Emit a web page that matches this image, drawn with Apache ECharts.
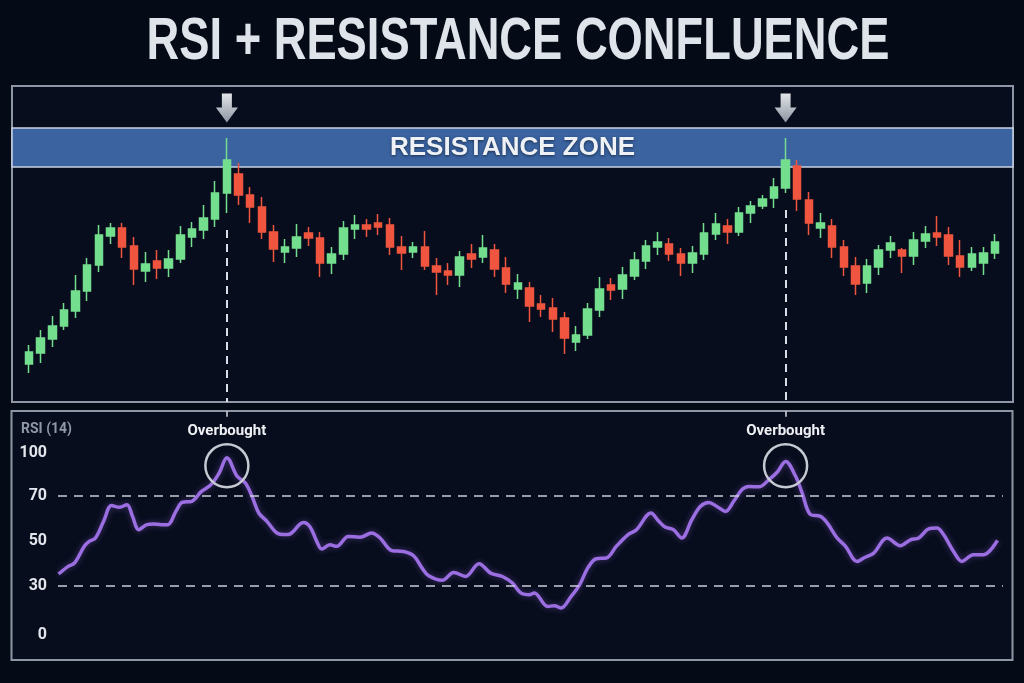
<!DOCTYPE html>
<html>
<head>
<meta charset="utf-8">
<title>RSI + Resistance Confluence</title>
<script src="https://cdn.jsdelivr.net/npm/echarts@6/dist/echarts.min.js"></script>
<style>
  html, body { margin: 0; padding: 0; background: #050a17; }
  #main { width: 1024px; height: 683px; }
</style>
</head>
<body>
<div id="main"></div>
<script>
// price candles, one per session (price units are arbitrary)
var opens  = [38, 49, 63, 76, 91, 111, 137, 166, 174, 156, 131, 141, 134, 143, 165, 172, 183, 209, 228, 207,
              195, 170, 150, 154, 169, 164, 139, 148, 173, 177, 179, 177, 155, 150, 155, 136, 131, 127, 148, 145,
              152, 134, 113, 114, 98, 94, 84, 60, 67, 92, 117, 113, 126, 141, 155, 158, 148, 139, 148, 168,
              176, 170, 189, 196, 204, 214, 236, 202, 174, 176, 155, 136, 119, 135, 152, 152, 146, 161, 169, 167,
              146, 135, 139, 149];
var closes = [50, 64, 76, 92, 111, 137, 167, 174, 155, 133, 138, 134, 143, 167, 173, 184, 209, 242, 207, 195,
              170, 153, 155, 165, 164, 139, 148, 174, 177, 173, 175, 155, 149, 155, 136, 130, 127, 145, 143, 154,
              133, 118, 119, 96, 93, 83, 64, 67, 93, 113, 112, 127, 142, 156, 160, 148, 139, 149, 169, 178,
              170, 189, 196, 203, 215, 242, 203, 179, 179, 155, 135, 118, 136, 152, 159, 146, 162, 168, 165, 146,
              135, 148, 149, 160];
var lows   = [29, 39, 55, 72, 84, 101, 130, 158, 144, 117, 120, 123, 125, 139, 155, 163, 175, 189, 197, 179,
              163, 140, 139, 145, 156, 125, 128, 142, 163, 165, 167, 147, 132, 144, 132, 107, 117, 115, 134, 139,
              125, 109, 103, 80, 85, 70, 48, 51, 63, 85, 102, 103, 122, 133, 147, 141, 126, 129, 142, 162,
              158, 166, 179, 193, 194, 209, 191, 167, 164, 144, 126, 107, 109, 127, 144, 129, 137, 154, 156, 137,
              125, 131, 127, 143];
var highs  = [57, 72, 86, 99, 127, 144, 177, 179, 179, 165, 150, 152, 152, 176, 180, 197, 221, 264, 239, 215,
              205, 177, 163, 178, 175, 170, 155, 181, 187, 183, 188, 184, 166, 160, 171, 144, 139, 151, 158, 167,
              158, 145, 128, 120, 107, 104, 90, 76, 99, 125, 124, 135, 150, 162, 170, 164, 154, 156, 179, 189,
              183, 195, 201, 207, 224, 264, 242, 210, 189, 183, 162, 145, 143, 157, 166, 154, 170, 176, 186, 175,
              162, 155, 155, 168];

// RSI(14) readings; position is measured in sessions
var rsiPos = [2.54, 3.37, 3.92, 4.75, 5.17, 5.71, 6.41, 7.09, 7.78, 8.42, 8.89, 9.44, 10.13, 10.68, 11.37, 11.92,
              12.62, 13.16, 13.99, 14.82, 15.64, 16.34, 17, 17.88, 18.59, 19.16, 19.74, 20.44, 21.3, 22.01, 22.44,
              23.58, 24.15, 24.72, 25.15, 25.85, 26.43, 27.43, 28.43, 29.44, 30.16, 31.17, 32.18, 33.04, 33.76,
              34.34, 35.49, 36.5, 37.5, 38.66, 39.66, 40.67, 41.53, 42.25, 42.98, 43.41, 44.56, 45.14, 45.71,
              46.57, 47.3, 48.01, 48.73, 49.6, 50.46, 51.47, 52.19, 53.43, 54.06, 54.64, 55.36, 56.08, 56.94,
              57.67, 58.39, 59.1, 59.83, 60.54, 61.26, 61.84, 62.71, 63.57, 64.29, 65, 65.86, 66.42, 67.14, 68,
              68.57, 69.43, 70.15, 71.14, 71.72, 72.57, 73.71, 74.86, 75.72, 76.43, 77.29, 78, 78.57, 79.43,
              80.14, 81.14, 82, 83.2];
var rsiVal = [35.2, 38.6, 40.1, 47.5, 49.7, 51.2, 58.6, 65.6, 64.8, 66, 60.8, 54.9, 57.1, 57.4, 57.1, 57.1,
              63, 67, 67.5, 71.9, 74.9, 80.1, 86.8, 78.6, 75.6, 69.7, 62.3, 58.6, 53.4, 52.7, 53,
              58.1, 56.1, 49.7, 46.3, 48.2, 47.5, 51.9, 51.5, 53.4, 51.2, 45.6, 45.2, 43.3, 37.9,
              34.4, 32.4, 35.9, 34.1, 39.8, 35.6, 34.1, 31.2, 26.8, 26, 26.8, 20.8, 21.1, 20.1,
              25.2, 30.4, 37.9, 42, 42.3, 47.5, 52.7, 54.9, 62.3, 58.9, 56.1, 54.9, 51.2, 59.3,
              65.2, 67, 65.2, 63, 67.5, 72.7, 74.1, 73.9, 77.1, 80.5, 85.2, 78.6, 71.2, 61.6, 60.8,
              57.9, 51.2, 47.5, 40.8, 42.3, 44.5, 51.2, 47.8, 50.4, 51.2, 55.2, 55.6, 52.7, 45.2,
              40.8, 43.8, 43.8, 50.1];

// RSI tick labels; the picture squeezes 0 and 100 in toward the 30/70 lines
var rsiTickAt = [8, 30, 50, 70, 89];
var rsiTickText = ['0', '30', '50', '70', '100'];

var zone = [235, 274];      // resistance band (price)
var peaks = [17, 65];       // sessions that tag the band
var levels = [70, 30];      // overbought / oversold
var obMark = 83.3;          // where the "Overbought" rings sit

// layout: centre of session 0 and spacing between sessions, px
var X0 = 29, STEP = 11.64;
var g1 = { left: 12, right: 11, top: 86, height: 316 };
var g2 = { left: 58, right: 21, top: 411, height: 249 };
var W = 1024;
function idxAt(px) { return (px - X0) / STEP; }

var candles = opens.map(function (o, i) { return [i, o, closes[i], lows[i], highs[i]]; });
var rsi = rsiPos.map(function (x, i) { return [x, rsiVal[i]]; });
var rsiMax = 107.6;

var chart = echarts.init(document.getElementById('main'));

var option = {
  backgroundColor: '#050a17',
  animation: false,
  grid: [
    { left: g1.left, right: g1.right, top: g1.top, height: g1.height, show: true,
      backgroundColor: '#070d1c', borderColor: '#8d96a5', borderWidth: 2 },
    { left: g2.left, right: g2.right, top: g2.top, height: g2.height }
  ],
  xAxis: [
    { gridIndex: 0, type: 'value', show: false,
      min: idxAt(g1.left), max: idxAt(W - g1.right) },
    { gridIndex: 1, type: 'value', show: false,
      min: idxAt(g2.left), max: idxAt(W - g2.right) }
  ],
  yAxis: [
    { gridIndex: 0, type: 'value', show: false, min: 0, max: 316 },
    { gridIndex: 1, type: 'value', min: -3, max: rsiMax,
      axisLine: { show: false }, axisTick: { show: false }, splitLine: { show: false },
      axisLabel: {
        customValues: rsiTickAt,
        formatter: function (v) { var k = rsiTickAt.indexOf(v); return k < 0 ? '' : rsiTickText[k]; },
        color: '#e3e6ec', fontSize: 16, fontWeight: 'bold', fontFamily: 'Roboto', margin: 11
      } }
  ],
  graphic: [
    { type: 'rect', z: 0, shape: { x: 11.5, y: 411, width: 1001, height: 249 },
      style: { fill: '#070d1c', stroke: '#8d96a5', lineWidth: 2 } },
    // condensed headline: regular bold face squeezed horizontally
    { type: 'text', x: 518, y: 42, scaleX: 0.755, z: 10,
      style: { text: 'RSI + RESISTANCE CONFLUENCE',
               fontSize: 60, fontWeight: 'bold', fontFamily: 'Liberation Sans',
               fill: '#dfe3ea', textAlign: 'center', textVerticalAlign: 'middle',
               align: 'center', verticalAlign: 'middle',
               shadowColor: 'rgba(0,0,0,0.6)', shadowBlur: 4, shadowOffsetY: 2 } },
    { type: 'text', x: 21, y: 429, z: 10,
      style: { text: 'RSI (14)', fontSize: 14, fontWeight: 'bold', fontFamily: 'Roboto', fill: '#8f98a8',
               textVerticalAlign: 'middle', verticalAlign: 'middle' } }
  ],
  series: [
    {
      type: 'candlestick',
      xAxisIndex: 0, yAxisIndex: 0,
      barWidth: 8,
      data: candles,
      itemStyle: { color: '#74de8f', color0: '#ef553f', borderColor: '#74de8f', borderColor0: '#ef553f', borderWidth: 1.5 },
      markArea: {
        silent: true,
        itemStyle: { color: '#3a63a0', borderColor: '#c7d2e3', borderWidth: 1.5 },
        label: { show: true, position: 'inside', formatter: 'RESISTANCE ZONE',
                 color: '#eef1f5', fontSize: 26, fontWeight: 'bold', fontFamily: 'Liberation Sans',
                 textShadowColor: 'rgba(0,0,0,0.55)', textShadowBlur: 3, textShadowOffsetY: 1 },
        data: [[{ yAxis: zone[0] }, { yAxis: zone[1] }]]
      },
      markLine: {
        silent: true, symbol: ['none', 'none'],
        label: { show: false },
        lineStyle: { color: '#d8dde6', width: 2, type: [8, 6] },
        data: peaks.map(function (p) { return [{ coord: [p, lows[p] - 17] }, { coord: [p, 0] }]; })
      },
      markPoint: {
        silent: true,
        symbol: 'path://M6,0 L16,0 L16,14 L22,14 L11,29 L0,14 L6,14 Z',
        symbolSize: [22, 29],
        itemStyle: { color: new echarts.graphic.LinearGradient(0, 0, 0, 1, [
          { offset: 0, color: '#e3e6ea' }, { offset: 1, color: '#8d95a1' }]) },
        label: { show: false },
        data: peaks.map(function (p) { return { coord: [p, zone[1] + 20] }; })
      }
    },
    {
      type: 'line',
      xAxisIndex: 1, yAxisIndex: 1,
      data: rsi,
      smooth: 0.35,
      showSymbol: false,
      z: 3,
      lineStyle: { color: '#9b6ee2', width: 3.5, shadowColor: 'rgba(150,100,230,0.45)', shadowBlur: 6 },
      markLine: {
        silent: true, symbol: ['none', 'none'],
        label: { show: false },
        lineStyle: { color: '#c9ced8', width: 1.6, type: [9, 7] },
        data: levels.map(function (v) { return { yAxis: v }; }).concat(
          peaks.map(function (p) { return [{ coord: [p, rsiMax] }, { coord: [p, rsiMax - 2.5] }]; }))
      },
      markPoint: {
        silent: true,
        symbol: 'circle', symbolSize: 43,
        itemStyle: { color: 'rgba(0,0,0,0)', borderColor: '#c5c9d1', borderWidth: 2.5 },
        label: { show: true, position: 'top', distance: 4, formatter: 'Overbought',
                 color: '#eef0f4', fontSize: 15, fontWeight: 'bold', fontFamily: 'Roboto' },
        data: peaks.map(function (p) { return { coord: [p, obMark] }; })
      }
    }
  ]
};

chart.setOption(option);
</script>
</body>
</html>
